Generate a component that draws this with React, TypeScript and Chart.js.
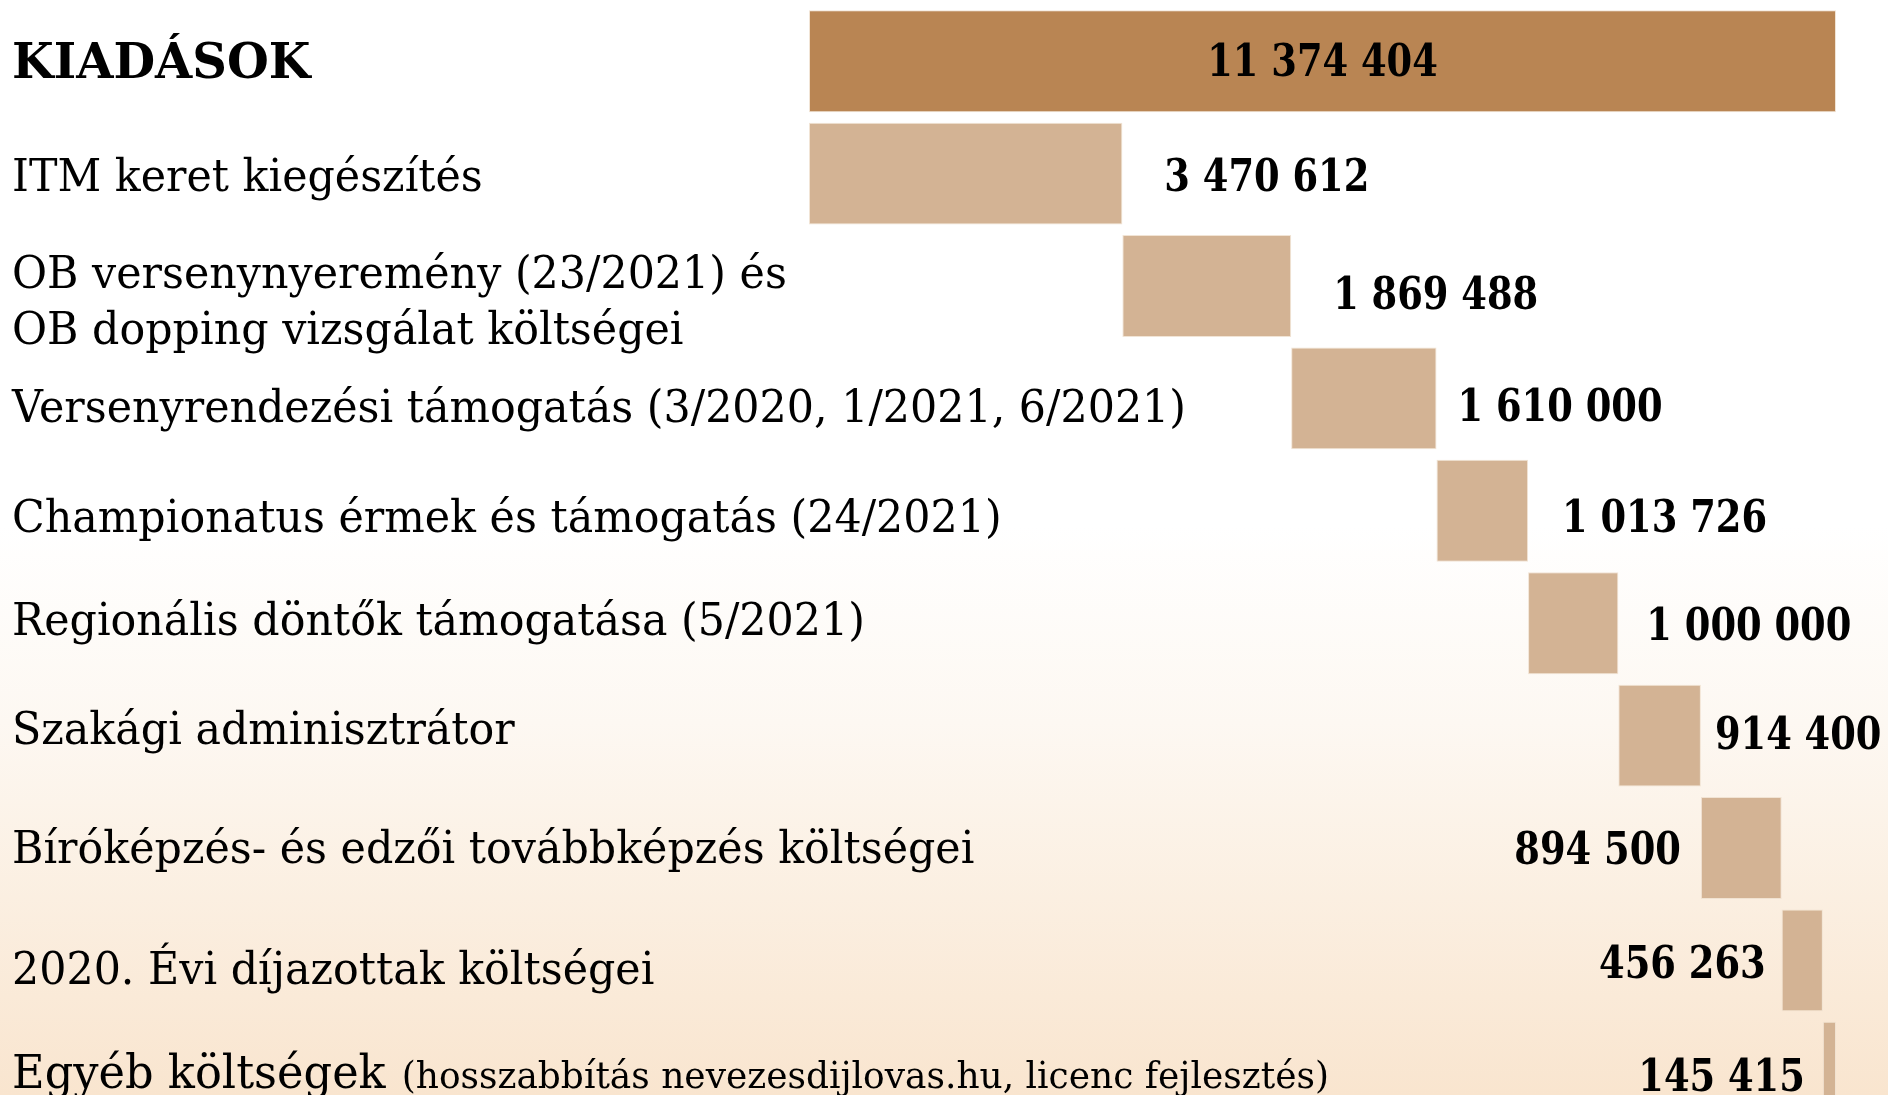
import React, { useEffect, useRef } from "react";
import { Chart, registerables } from "chart.js";

Chart.register(...registerables);

// ---------- data ----------
const categories: (string | string[])[] = [
  "KIADÁSOK",
  "ITM keret kiegészítés",
  ["OB versenynyeremény (23/2021) és", "OB dopping vizsgálat költségei"],
  "Versenyrendezési támogatás (3/2020, 1/2021, 6/2021)",
  "Championatus érmek és támogatás (24/2021)",
  "Regionális döntők támogatása (5/2021)",
  "Szakági adminisztrátor",
  "Bíróképzés- és edzői továbbképzés költségei",
  "2020. Évi díjazottak költségei",
  "Egyéb költségek",
];

const categoryNotes: string[] = [
  "", "", "", "", "", "", "", "", "",
  "(hosszabbítás nevezesdijlovas.hu, licenc fejlesztés)",
];

const values: number[] = [
  11374404, 3470612, 1869488, 1610000, 1013726, 1000000, 914400, 894500, 456263, 145415,
];

// ---------- styles ----------
// where the value label sits relative to its bar
const labelPlacement: string[] = [
  "center", "right", "right", "right", "right", "right", "right", "left", "left", "left",
];
const valueGap: number[] = [0, 42, 42, 21, 34, 28, 14, 20, 16, 18];
const valueDy: number[] = [-1, 1, 7, 7, 5, 1, -3, 0, 2, 2];
const labelDy: number[] = [0, 1, 0, 8, 5, -4, -8, -1, 8, -1];

const TOTAL_COLOR = "#B98553";
const PART_COLOR = "#D3B394";
const W = 1888;
const VIEW_H = 1095;
const CANVAS_H = 1134;

const fmt = (n: number) => String(n).replace(/\B(?=(\d{3})+(?!\d))/g, " ");

export default function App() {
  const ref = useRef<HTMLCanvasElement>(null);

  useEffect(() => {
    const canvas = ref.current;
    if (!canvas) return;

    const total = values[0];
    let cum = 0;
    const ranges = values.map((v, i) => {
      if (i === 0) return [0, v];
      const r = [cum, cum + v];
      cum += v;
      return r;
    });

    const LABEL_FONT = "44px 'DejaVu Serif', serif";
    const MAIN9_FONT = "46px 'DejaVu Serif', serif";
    const NOTE_FONT = "37px 'DejaVu Serif', serif";
    const TITLE_FONT = "bold 48px 'DejaVu Serif', serif";
    const VALUE_FONT = "bold 45px 'DejaVu Serif', serif";

    const labelPlugin = {
      id: "waterfallLabels",
      afterDatasetsDraw(chart: any) {
        const ctx: CanvasRenderingContext2D = chart.ctx;
        const yScale = chart.scales.y;
        const meta = chart.getDatasetMeta(0);

        ctx.save();
        ctx.font = LABEL_FONT;
        const labelSx = 1174 / ctx.measureText("Versenyrendezési támogatás (3/2020, 1/2021, 6/2021)").width;
        ctx.font = VALUE_FONT;
        const valueSx = 205 / ctx.measureText("3 470 612").width;
        ctx.restore();

        const draw = (text: string, x: number, y: number, font: string, align: CanvasTextAlign, sx: number) => {
          ctx.save();
          ctx.font = font;
          ctx.fillStyle = "#000";
          ctx.textBaseline = "alphabetic";
          ctx.textAlign = align;
          ctx.translate(x, y);
          ctx.scale(sx, 1);
          ctx.fillText(text, 0, 0);
          ctx.restore();
        };

        categories.forEach((cat, i) => {
          const cy = yScale.getPixelForValue(i) + labelDy[i];
          if (i === 0) {
            draw(String(cat), 12, cy + 17, TITLE_FONT, "left", 1);
            return;
          }
          const lines = Array.isArray(cat) ? cat : [cat];
          const n = lines.length;
          const spacing = 56;
          const shift = n > 1 ? 14 : 0;
          lines.forEach((ln, k) => {
            const by = cy + 16 - ((n - 1) * spacing) / 2 + k * spacing + shift;
            const hasNote = k === n - 1 && categoryNotes[i];
            const font = hasNote ? MAIN9_FONT : LABEL_FONT;
            draw(ln, 12, by, font, "left", labelSx);
            if (hasNote) {
              ctx.save();
              ctx.font = font;
              const wMain = ctx.measureText(ln).width * labelSx;
              ctx.restore();
              draw(categoryNotes[i], 12 + wMain + 16, by, NOTE_FONT, "left", labelSx);
            }
          });
        });

        meta.data.forEach((bar: any, i: number) => {
          const props = bar.getProps(["x", "y", "base"], true);
          const left = Math.min(props.x, props.base);
          const right = Math.max(props.x, props.base);
          const by = props.y + 16 + valueDy[i];
          const text = fmt(values[i]);
          ctx.save();
          ctx.font = VALUE_FONT;
          const tw = ctx.measureText(text).width * valueSx;
          ctx.restore();
          const place = labelPlacement[i];
          if (place === "center") {
            draw(text, (left + right) / 2, by, VALUE_FONT, "center", valueSx);
          } else if (place === "right") {
            let x = right + valueGap[i];
            if (x + tw > W - 3) x = W - 3 - tw;
            draw(text, x, by, VALUE_FONT, "left", valueSx);
          } else {
            draw(text, left - valueGap[i], by, VALUE_FONT, "right", valueSx);
          }
        });
      },
    };

    const chart = new Chart(canvas, {
      type: "bar",
      data: {
        labels: categories.map((c) => (Array.isArray(c) ? c.join(" ") : c)),
        datasets: [
          {
            data: ranges as any,
            backgroundColor: values.map((_, i) => (i === 0 ? TOTAL_COLOR : PART_COLOR)),
            borderColor: "rgba(240,225,208,0.9)",
            borderWidth: 1,
            borderSkipped: false,
            barPercentage: 0.907,
            categoryPercentage: 1,
          },
        ],
      },
      options: {
        indexAxis: "y",
        responsive: false,
        maintainAspectRatio: false,
        animation: false,
        layout: { padding: { left: 809, right: 52, top: 5, bottom: 5 } },
        scales: {
          x: { display: false, min: 0, max: total },
          y: { display: false },
        },
        plugins: {
          legend: { display: false },
          tooltip: { enabled: false },
        },
      },
      plugins: [labelPlugin],
    });

    return () => chart.destroy();
  }, []);

  return (
    <div
      style={{
        position: "fixed",
        left: 0,
        top: 0,
        width: W,
        height: VIEW_H,
        overflow: "hidden",
        background:
          "linear-gradient(to bottom, #ffffff 0%, #ffffff 48%, #fdf8f2 66%, #fbefe1 82%, #f9e5cf 100%)",
      }}
    >
      <canvas ref={ref} width={W} height={CANVAS_H} style={{ display: "block", width: W, height: CANVAS_H }} />
    </div>
  );
}
